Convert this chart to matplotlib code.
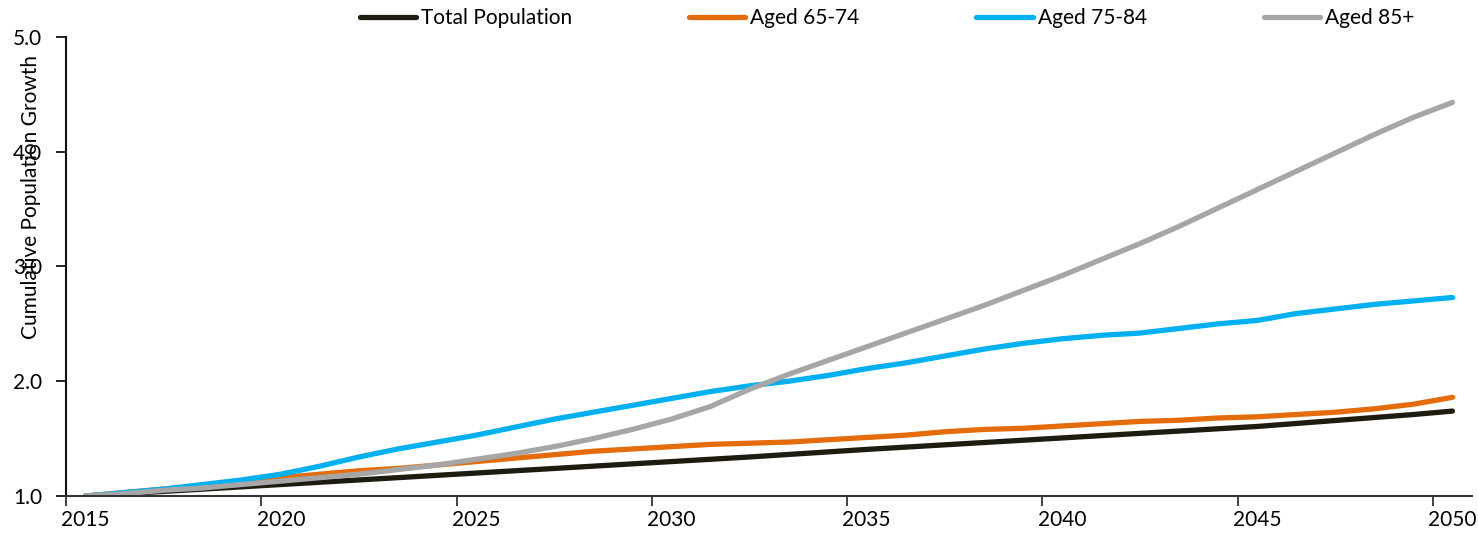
import matplotlib
matplotlib.use("Agg")
import matplotlib.pyplot as plt
from matplotlib.ticker import FixedLocator, NullFormatter, FixedFormatter

plt.rcParams['font.family'] = ['Lato', 'DejaVu Sans']

years = list(range(2015, 2051))

total_population = [1.000, 1.020, 1.040, 1.060, 1.080, 1.100, 1.120, 1.140, 1.160, 1.180,
                    1.200, 1.220, 1.240, 1.260, 1.280, 1.300, 1.320, 1.340, 1.362, 1.384,
                    1.406, 1.426, 1.446, 1.466, 1.486, 1.506, 1.526, 1.546, 1.566, 1.586,
                    1.606, 1.632, 1.658, 1.684, 1.710, 1.740]

aged_65_74 = [1.00, 1.03, 1.06, 1.09, 1.12, 1.16, 1.19, 1.22, 1.24, 1.27,
              1.30, 1.33, 1.36, 1.39, 1.41, 1.43, 1.45, 1.46, 1.47, 1.49,
              1.51, 1.53, 1.56, 1.58, 1.59, 1.61, 1.63, 1.65, 1.66, 1.68,
              1.69, 1.71, 1.73, 1.76, 1.80, 1.86]

aged_75_84 = [1.00, 1.03, 1.06, 1.10, 1.14, 1.19, 1.26, 1.34, 1.41, 1.47,
              1.53, 1.60, 1.67, 1.73, 1.79, 1.85, 1.91, 1.96, 2.00, 2.05,
              2.11, 2.16, 2.22, 2.28, 2.33, 2.37, 2.40, 2.42, 2.46, 2.50,
              2.53, 2.59, 2.63, 2.67, 2.70, 2.73]

aged_85_plus = [1.00, 1.02, 1.05, 1.07, 1.10, 1.13, 1.16, 1.19, 1.23, 1.27,
                1.32, 1.37, 1.43, 1.50, 1.58, 1.67, 1.78, 1.93, 2.06, 2.18,
                2.30, 2.42, 2.54, 2.66, 2.79, 2.92, 3.06, 3.20, 3.35, 3.51,
                3.67, 3.83, 3.99, 4.15, 4.30, 4.43]

series_names = ["Total Population", "Aged 65-74", "Aged 75-84", "Aged 85+"]
series_values = [total_population, aged_65_74, aged_75_84, aged_85_plus]
series_colors = ["#1E1B10", "#E46C0A", "#00B0F0", "#A6A6A6"]

x_tick_labels = ["2015", "2020", "2025", "2030", "2035", "2040", "2045", "2050"]
y_ticks = [1.0, 2.0, 3.0, 4.0, 5.0]

FS = 15

fig = plt.figure(figsize=(14.78, 5.38), dpi=100)
ax = fig.add_axes([66/1478, 1-496/538, (1472-66)/1478, (496-37)/538])

for name, vals, col in zip(series_names, series_values, series_colors):
    ax.plot(years, vals, color=col, lw=3.8, solid_capstyle='round',
            solid_joinstyle='round', label=name)

ax.set_xlim(2014.5, 2050.5)
ax.set_ylim(1.0, 5.0)

label_pos = [int(t) for t in x_tick_labels]
ax.xaxis.set_major_locator(FixedLocator([p - 0.5 for p in label_pos]))
ax.xaxis.set_major_formatter(NullFormatter())
ax.xaxis.set_minor_locator(FixedLocator(label_pos))
ax.xaxis.set_minor_formatter(FixedFormatter(x_tick_labels))
ax.tick_params(axis='x', which='major', length=7, width=1.2, direction='out', color='#222222')
ax.tick_params(axis='x', which='minor', length=0, pad=10, labelsize=FS)

ax.set_yticks(y_ticks)
ax.set_yticklabels([f"{v:.1f}" for v in y_ticks])
ax.tick_params(axis='y', length=7, width=1.2, direction='out', pad=10, labelsize=FS)

for s in ['top', 'right']:
    ax.spines[s].set_visible(False)
ax.spines['left'].set_linewidth(1.5)
ax.spines['left'].set_color('#111111')
ax.spines['bottom'].set_linewidth(1.5)
ax.spines['bottom'].set_color('#333333')

fig.text(31/1478, 1-197/538, "Cumulative Population Growth", rotation=90,
         ha='center', va='center', fontsize=FS)

leg = fig.legend(loc='center', bbox_to_anchor=(887/1478, 1-18/538), ncol=4,
                 frameon=False, fontsize=FS, handlelength=2.7, handletextpad=0.25,
                 columnspacing=5.6, borderaxespad=0, borderpad=0)

fig.savefig("out.png", dpi=100)
